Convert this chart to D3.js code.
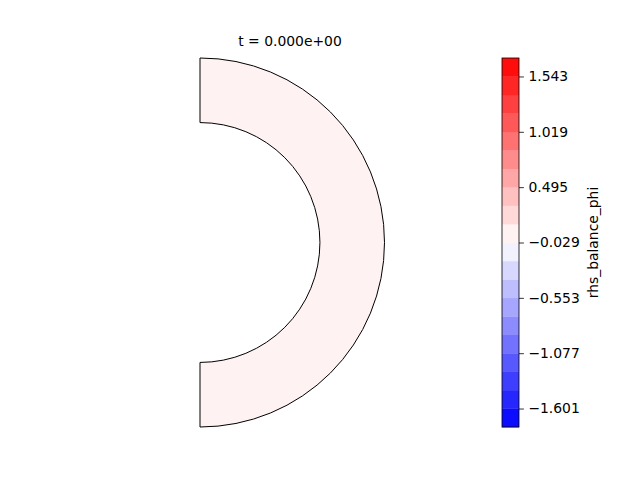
<!DOCTYPE html>
<html><head><meta charset="utf-8">
<script src="https://cdn.jsdelivr.net/npm/d3@7"></script>
<style>body{margin:0;background:#fff}svg{display:block}text{font-family:"DejaVu Sans",sans-serif}</style>
</head><body>
<svg id="c" width="640" height="480"></svg>
<script>
// ---- data ----
const title = "t = 0.000e+00";
const cbarLabel = "rhs_balance_phi";
const levels = [-1.7757, -1.6010, -1.4263, -1.2517, -1.0770, -0.9023, -0.7277, -0.5530, -0.3783, -0.2037,
                -0.0290, 0.1457, 0.3203, 0.4950, 0.6697, 0.8443, 1.0190, 1.1937, 1.3683, 1.5430, 1.7177];
const tickValues = [-1.601, -1.077, -0.553, -0.029, 0.495, 1.019, 1.543];
const radii = [0.65, 1.0];          // inner, outer radius of the shell
const fieldValues = [0.0];          // field value over the shell at t = 0

// ---- helpers ----
function bwr(t) {
  t = Math.floor(Math.max(0, Math.min(1, t)) * 255.999) / 255;
  if (t <= 0.5) { const v = t * 2; return d3.rgb(255 * v, 255 * v, 255); }
  const v = (1 - t) * 2; return d3.rgb(255, 255 * v, 255 * v);
}
const nb = levels.length - 1;
const bandColor = i => bwr((i + 0.5) / nb).formatHex();
function bandOf(v) {
  for (let i = 0; i < nb; i++) if (v >= levels[i] && v < levels[i + 1]) return i;
  return v < levels[0] ? 0 : nb - 1;
}

const svg = d3.select("#c");

// ---- main plot ----
const x = d3.scaleLinear().domain([0, 1]).range([200, 384.5]);
const y = d3.scaleLinear().domain([-1, 1]).range([427, 58]);
const pxR = r => x(r) - x(0);
const g = svg.append("g").attr("transform", `translate(${x(0)},${y(0)})`);
fieldValues.forEach(v => {
  g.append("path")
    .attr("d", d3.arc().innerRadius(pxR(radii[0])).outerRadius(pxR(radii[1])).startAngle(0).endAngle(Math.PI)())
    .attr("fill", bandColor(bandOf(v)))
    .attr("stroke", "#000").attr("stroke-width", 1);
});

svg.append("text").attr("x", 290).attr("y", 46).attr("text-anchor", "middle")
  .attr("font-size", 13.9).text(title);

// ---- colorbar ----
const cx0 = 502, cw = 17;
const cy = d3.scaleLinear().domain([levels[0], levels[nb]]).range([427, 58]);
const cb = svg.append("g");
cb.selectAll("rect").data(d3.range(nb)).join("rect")
  .attr("x", cx0).attr("width", cw)
  .attr("y", i => cy(levels[i + 1]))
  .attr("height", i => cy(levels[i]) - cy(levels[i + 1]) + 0.3)
  .attr("fill", i => bandColor(i));
cb.append("rect").attr("x", cx0).attr("y", cy(levels[nb])).attr("width", cw)
  .attr("height", cy(levels[0]) - cy(levels[nb]))
  .attr("fill", "none").attr("stroke", "#000").attr("stroke-width", 0.8);
const ax = svg.append("g").attr("transform", `translate(${cx0 + cw},0)`)
  .call(d3.axisRight(cy).tickValues(tickValues).tickFormat(d3.format(".3f")).tickSize(4.9).tickPadding(4.5));
ax.select(".domain").remove();
ax.selectAll("text").attr("font-size", 13.9).attr("font-family", "DejaVu Sans").attr("fill", "#000");
ax.selectAll("line").attr("stroke", "#000").attr("stroke-width", 0.8);

svg.append("text").attr("transform", `translate(598,${(cy(levels[0]) + cy(levels[nb])) / 2}) rotate(-90)`)
  .attr("text-anchor", "middle").attr("font-size", 13.9).text(cbarLabel);
</script>
</body></html>
